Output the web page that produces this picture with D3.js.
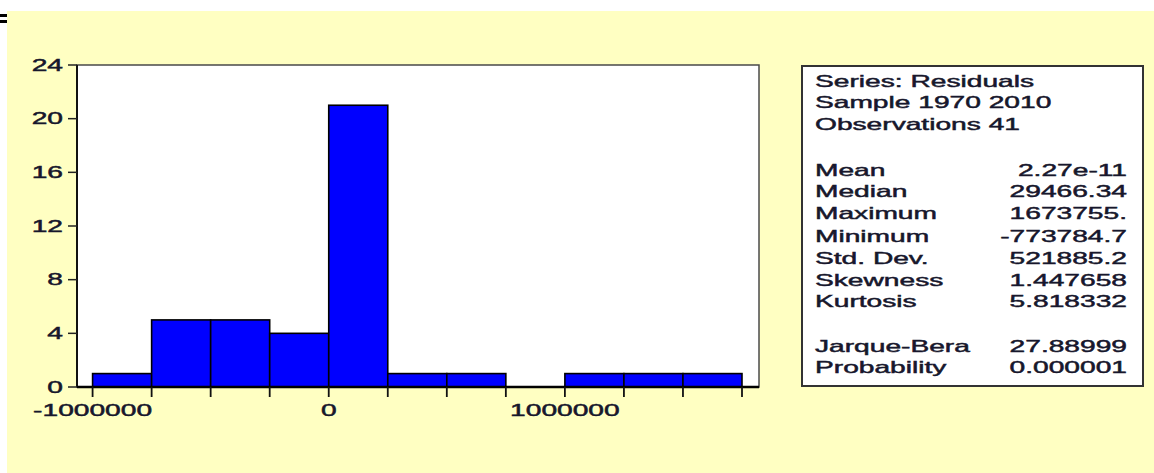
<!DOCTYPE html>
<html>
<head>
<meta charset="utf-8">
<script src="https://cdn.jsdelivr.net/npm/d3@7"></script>
<style>
  html, body { margin: 0; padding: 0; background: #ffffff; }
  svg { display: block; }
  text { font-family: "Liberation Sans", Arial, sans-serif; fill: #17172c; stroke: #17172c; stroke-width: 0.45px; }
</style>
</head>
<body>
<svg id="chart" width="1154" height="473"></svg>
<script>
// Histogram of residuals: bin edges and observation counts per bin
const binEdges = [-1000000, -750000, -500000, -250000, 0, 250000, 500000, 750000, 1000000, 1250000, 1500000, 1750000];
const binCounts = [1, 5, 5, 4, 21, 1, 1, 0, 1, 1, 1];
const yTickValues = [0, 4, 8, 12, 16, 20, 24];
const xTickLabels = [-1000000, 0, 1000000];

// Descriptive statistics panel
const headerLines = ["Series: Residuals", "Sample 1970 2010", "Observations 41"];
const statNames = ["Mean", "Median", "Maximum", "Minimum", "Std. Dev.", "Skewness", "Kurtosis"];
const statValues = ["2.27e-11", "29466.34", "1673755.", "-773784.7", "521885.2", "1.447658", "5.818332"];
const testNames = ["Jarque-Bera", "Probability"];
const testValues = ["27.88999", "0.000001"];

const svg = d3.select("#chart");
const FS = 16, SX = 1.76; // glyphs are drawn wide

function wideText(g, x, y, str, anchor) {
  return g.append("text")
    .attr("transform", `translate(${x},${y}) scale(${SX},1)`)
    .attr("text-anchor", anchor || "start")
    .attr("dominant-baseline", "central")
    .attr("font-size", FS)
    .text(str);
}

// page background panel
svg.append("rect").attr("x", 7).attr("y", 11).attr("width", 1147).attr("height", 462).attr("fill", "#ffffc2");
svg.append("rect").attr("x", 0).attr("y", 14).attr("width", 7).attr("height", 3).attr("fill", "#000");
svg.append("rect").attr("x", 0).attr("y", 20).attr("width", 7).attr("height", 3).attr("fill", "#000");

// plot frame
const plot = { left: 77, right: 759, top: 65, bottom: 387 };
const x = d3.scaleLinear().domain([-1066000, 1822000]).range([plot.left, plot.right]);
const y = d3.scaleLinear().domain([0, 24]).range([plot.bottom, plot.top]);

svg.append("rect")
  .attr("x", plot.left).attr("y", plot.top)
  .attr("width", plot.right - plot.left).attr("height", plot.bottom - plot.top)
  .attr("fill", "#ffffff").attr("stroke", "#4a4a4a").attr("stroke-width", 1.5);

// bars
const bins = binCounts.map((c, i) => ({ x0: binEdges[i], x1: binEdges[i + 1], count: c }));
svg.append("g").selectAll("rect")
  .data(bins.filter(d => d.count > 0))
  .join("rect")
  .attr("x", d => x(d.x0))
  .attr("y", d => y(d.count))
  .attr("width", d => x(d.x1) - x(d.x0))
  .attr("height", d => y(0) - y(d.count))
  .attr("fill", "#0000ff")
  .attr("stroke", "#000")
  .attr("stroke-width", 1.6);

// axis lines
svg.append("line").attr("x1", plot.left).attr("x2", plot.left).attr("y1", plot.top).attr("y2", plot.bottom)
  .attr("stroke", "#111").attr("stroke-width", 2);
svg.append("line").attr("x1", plot.left).attr("x2", plot.right).attr("y1", plot.bottom).attr("y2", plot.bottom)
  .attr("stroke", "#000").attr("stroke-width", 2.5);

// y axis ticks and labels
const yAxis = svg.append("g");
yAxis.selectAll("line").data(yTickValues).join("line")
  .attr("x1", plot.left - 9).attr("x2", plot.left)
  .attr("y1", d => y(d)).attr("y2", d => y(d))
  .attr("stroke", "#222").attr("stroke-width", 1.5);
yTickValues.forEach(v => wideText(yAxis, 63, y(v), String(v), "end"));

// x axis ticks at bin edges, labels at major values
const xAxis = svg.append("g");
xAxis.selectAll("line").data(binEdges).join("line")
  .attr("x1", d => x(d)).attr("x2", d => x(d))
  .attr("y1", plot.bottom).attr("y2", plot.bottom + 10)
  .attr("stroke", "#111").attr("stroke-width", 1.8);
xTickLabels.forEach(v => wideText(xAxis, x(v), 410, String(v), "middle"));

// statistics box
const box = svg.append("g");
box.append("rect").attr("x", 802).attr("y", 66).attr("width", 341).attr("height", 320)
  .attr("fill", "#ffffff").attr("stroke", "#333").attr("stroke-width", 2);
const headerY = [81, 102, 124];
headerLines.forEach((t, i) => wideText(box, 815, headerY[i], t));
const statY = [170, 191, 213, 236, 258, 280, 301];
statNames.forEach((t, i) => {
  wideText(box, 815, statY[i], t);
  wideText(box, 1127, statY[i], statValues[i], "end");
});
const testY = [346, 367];
testNames.forEach((t, i) => {
  wideText(box, 815, testY[i], t);
  wideText(box, 1127, testY[i], testValues[i], "end");
});
</script>
</body>
</html>
